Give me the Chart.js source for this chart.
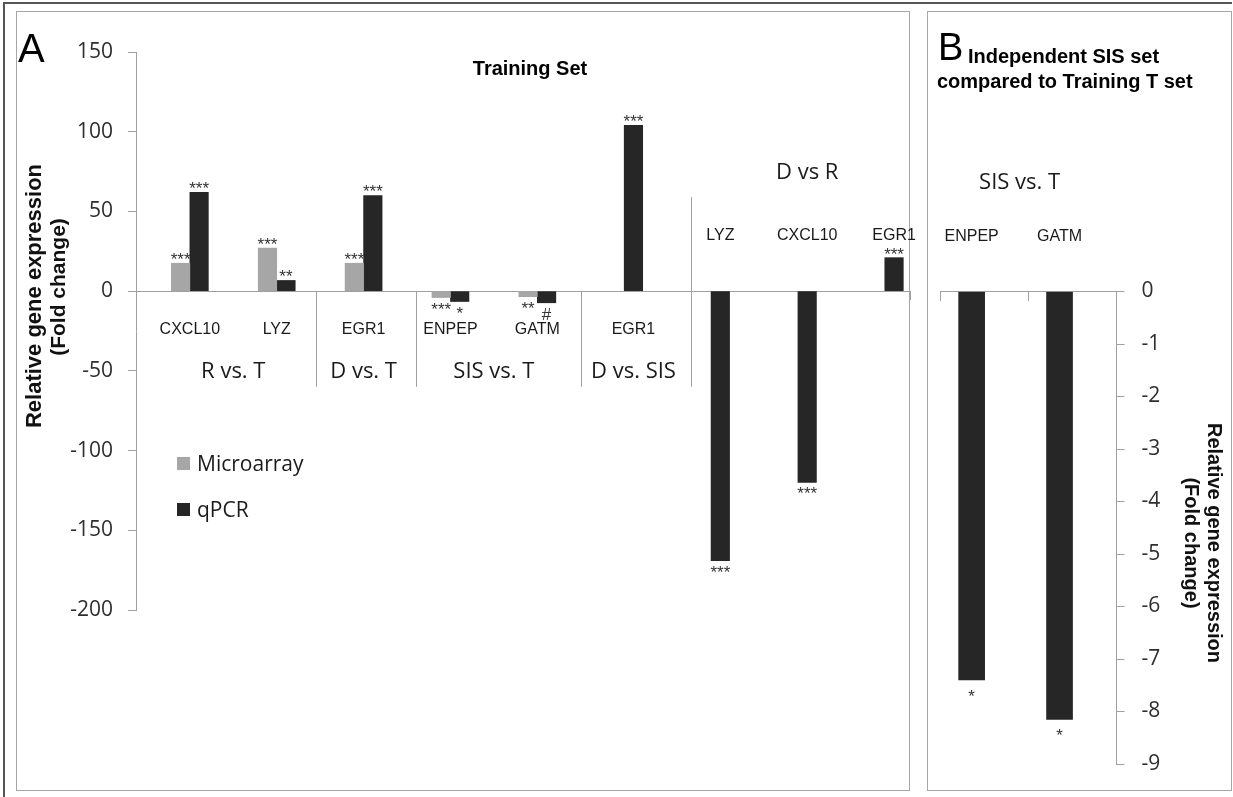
<!DOCTYPE html>
<html>
<head>
<meta charset="utf-8">
<title>Relative gene expression</title>
<script src="https://cdn.jsdelivr.net/npm/chart.js@4.4.1/dist/chart.umd.min.js"></script>
<style>
  html, body { margin: 0; padding: 0; background: #fff; }
  #wrap { position: relative; width: 1233px; height: 797px; overflow: hidden; background: #fff; }
  #wrap canvas { position: absolute; left: 0; top: 0; }
  .frame { position: absolute; box-sizing: border-box; }
</style>
</head>
<body>
<div id="wrap">
  <div class="frame" style="left:3px;top:2px;width:1229px;height:800px;border-top:2px solid #555;border-left:2px solid #555;"></div>
  <div class="frame" style="left:16px;top:11px;width:894px;height:780px;border:1.5px solid #a6a6a6;"></div>
  <div class="frame" style="left:927px;top:11px;width:305px;height:780px;border:1.5px solid #a6a6a6;"></div>
  <canvas id="chartA" width="1233" height="797"></canvas>
  <canvas id="chartB" width="1233" height="797"></canvas>
</div>
<script>
// ---- Panel A: training set ----
const genes = ['CXCL10', 'LYZ', 'EGR1', 'ENPEP', 'GATM', 'EGR1', 'LYZ', 'CXCL10', 'EGR1'];
const microarray = [17.5, 27, 17.5, -4, -3.5, null, null, null, null];
const qpcr = [62, 6.7, 60, -6.5, -7.3, 104, -169, -120, 21];
const microarraySig = ['***', '***', '***', '***', '**', '', '', '', ''];
const qpcrSig = ['***', '**', '***', '*', '#', '***', '***', '***', '***'];
const comparisons = ['R vs. T', 'D vs. T', 'SIS vs. T', 'D vs. SIS', 'D vs R'];
const comparisonFirst = [0, 2, 3, 5, 6];
const comparisonLast = [1, 2, 4, 5, 8];
const yTicksA = [-200, -150, -100, -50, 0, 50, 100, 150];

// ---- Panel B: independent SIS set ----
const genesB = ['ENPEP', 'GATM'];
const qpcrB = [-7.4, -8.15];
const microarrayB = [null, null];
const qpcrSigB = ['*', '*'];
const yTicksB = [-9, -8, -7, -6, -5, -4, -3, -2, -1, 0];

const GREY = '#a6a6a6';
const DARK = '#262626';
const AXIS = '#a0a0a0';
const TICK_FONT = { family: 'Open Sans', size: 21 };
const TICK_COLOR = '#2e2e2e';

function drawText(ctx, str, x, y, font, color, align) {
  ctx.save();
  ctx.font = font;
  ctx.fillStyle = color;
  ctx.textAlign = align || 'center';
  ctx.textBaseline = 'alphabetic';
  ctx.fillText(str, x, y);
  ctx.restore();
}

function drawRotated(ctx, str, x, y, angle, font, color) {
  ctx.save();
  ctx.translate(x, y);
  ctx.rotate(angle);
  ctx.font = font;
  ctx.fillStyle = color;
  ctx.textAlign = 'center';
  ctx.textBaseline = 'alphabetic';
  ctx.fillText(str, 0, 0);
  ctx.restore();
}

function vline(ctx, x, y1, y2, color) {
  ctx.save();
  ctx.strokeStyle = color;
  ctx.lineWidth = 1;
  ctx.beginPath();
  ctx.moveTo(Math.round(x) + 0.5, y1);
  ctx.lineTo(Math.round(x) + 0.5, y2);
  ctx.stroke();
  ctx.restore();
}

// significance marks: above positive bars, below negative ones
function drawSig(ctx, el, value, mark, below) {
  if (!mark || value === null || !el) return;
  const y = value >= 0 ? el.y + 2 : el.y + below;
  drawText(ctx, mark, el.x, y, '17px "Liberation Sans"', '#333');
}

// group dividers along the zero line (x positions in category units)
const dividersA = [
  { at: 1.45, top: 0 },
  { at: 2.6, top: 0 },
  { at: 4.5, top: 0 },
  { at: 5.77, top: 59 }
];

const panelAPlugin = {
  id: 'panelA',
  afterDatasetsDraw(chart) {
    const { ctx, chartArea, scales: { x, y } } = chart;
    const zero = y.getPixelForValue(0);
    const mMeta = chart.getDatasetMeta(0);
    const qMeta = chart.getDatasetMeta(1);

    // panel letter and title
    drawText(ctx, 'A', 18, 62, '40px "Liberation Sans"', '#000', 'left');
    drawText(ctx, 'Training Set', 530, 75, 'bold 20px "Liberation Sans"', '#000');

    // y-axis title
    drawRotated(ctx, 'Relative gene expression', 41, 296, -Math.PI / 2, 'bold 22px "Liberation Sans"', '#111');
    drawRotated(ctx, '(Fold change)', 65, 287, -Math.PI / 2, 'bold 21px "Liberation Sans"', '#111');

    // dividers and axis end tick
    const lowEnd = y.getPixelForValue(-60);
    dividersA.forEach(d => {
      vline(ctx, x.getPixelForValue(d.at), y.getPixelForValue(d.top), lowEnd, AXIS);
    });
    vline(ctx, chartArea.right, zero, zero + 9, AXIS);

    // gene labels
    const geneX = genes.map((g, i) => {
      const q = qMeta.data[i];
      return microarray[i] === null ? q.x : (mMeta.data[i].x + q.x) / 2;
    });
    const upperGroup = comparisons.length - 1;
    comparisons.forEach((name, gi) => {
      const upper = gi === upperGroup;
      for (let i = comparisonFirst[gi]; i <= comparisonLast[gi]; i++) {
        drawText(ctx, genes[i], geneX[i], upper ? zero - 51 : zero + 43, '16px "Liberation Sans"', '#1a1a1a');
      }
      const cx = (geneX[comparisonFirst[gi]] + geneX[comparisonLast[gi]]) / 2;
      drawText(ctx, name, cx, upper ? zero - 112 : zero + 87, '22px "Open Sans"', '#1a1a1a');
    });

    // significance marks
    genes.forEach((g, i) => {
      drawSig(ctx, mMeta.data[i], microarray[i], microarraySig[i], 17);
      drawSig(ctx, qMeta.data[i], qpcr[i], qpcrSig[i], 17);
    });

    // legend
    chart.data.datasets.forEach((ds, i) => {
      const top = 457 + i * 46;
      ctx.save();
      ctx.fillStyle = ds.backgroundColor;
      ctx.fillRect(177, top, 13, 13);
      ctx.restore();
      drawText(ctx, ds.label, 197, top + 14, '21px "Open Sans"', '#1a1a1a', 'left');
    });
  }
};

new Chart(document.getElementById('chartA'), {
  type: 'bar',
  data: {
    datasets: [
      { label: 'Microarray', data: microarray.map((v, i) => ({ x: i, y: v })), backgroundColor: GREY, barThickness: 18.5 },
      { label: 'qPCR', data: qpcr.map((v, i) => ({ x: i, y: v })), backgroundColor: DARK, barThickness: 18.5 }
    ]
  },
  options: {
    responsive: false,
    animation: false,
    devicePixelRatio: 1,
    layout: { padding: { left: 0, top: 52, right: 323, bottom: 187 } },
    plugins: { legend: { display: false }, tooltip: { enabled: false } },
    scales: {
      x: {
        type: 'linear',
        position: { y: 0 },
        offset: false,
        min: -0.62,
        max: 8.29,
        grid: { display: false, offset: false },
        ticks: { display: false },
        border: { color: AXIS, width: 1 }
      },
      y: {
        min: yTicksA[0],
        max: yTicksA[yTicksA.length - 1],
        afterBuildTicks: s => { s.ticks = yTicksA.map(v => ({ value: v })); },
        ticks: { font: TICK_FONT, color: TICK_COLOR, padding: 15 },
        grid: { drawOnChartArea: false, tickLength: 8, color: AXIS },
        border: { color: AXIS },
        afterFit: s => { s.width = 136; }
      }
    }
  },
  plugins: [panelAPlugin]
});

const panelBPlugin = {
  id: 'panelB',
  afterDatasetsDraw(chart) {
    const { ctx, scales: { y } } = chart;
    const zero = y.getPixelForValue(0);
    const qMeta = chart.getDatasetMeta(0);

    drawText(ctx, 'B', 938, 60, '38px "Liberation Sans"', '#000', 'left');
    drawText(ctx, 'Independent SIS set', 968, 63, 'bold 20px "Liberation Sans"', '#000', 'left');
    drawText(ctx, 'compared to Training T set', 937, 88, 'bold 20px "Liberation Sans"', '#000', 'left');

    const bx = qMeta.data.map(el => el.x);
    drawText(ctx, 'SIS vs. T', (bx[0] + bx[bx.length - 1]) / 2 + 4, 189, '22px "Open Sans"', '#1a1a1a');
    genesB.forEach((g, i) => {
      drawText(ctx, g, bx[i], zero - 51, '16px "Liberation Sans"', '#1a1a1a');
      drawSig(ctx, qMeta.data[i], qpcrB[i], qpcrSigB[i], 22);
    });

    drawRotated(ctx, 'Relative gene expression', 1208, 543, Math.PI / 2, 'bold 20px "Liberation Sans"', '#111');
    drawRotated(ctx, '(Fold change)', 1185, 543, Math.PI / 2, 'bold 20px "Liberation Sans"', '#111');
  }
};

new Chart(document.getElementById('chartB'), {
  type: 'bar',
  data: {
    labels: genesB,
    datasets: [
      { label: 'qPCR', data: qpcrB, backgroundColor: DARK, barThickness: 26 },
      { label: 'Microarray', data: microarrayB, backgroundColor: GREY, barThickness: 26 }
    ]
  },
  options: {
    responsive: false,
    animation: false,
    devicePixelRatio: 1,
    layout: { padding: { left: 940.7, top: 291.5, right: 0, bottom: 33 } },
    plugins: { legend: { display: false }, tooltip: { enabled: false } },
    scales: {
      x: {
        type: 'category',
        position: { y: 0 },
        offset: true,
        ticks: { display: false },
        grid: { display: true, offset: true, drawOnChartArea: false, drawTicks: true, tickLength: 9, color: AXIS },
        border: { color: AXIS }
      },
      y: {
        position: 'right',
        min: yTicksB[0],
        max: yTicksB[yTicksB.length - 1],
        afterBuildTicks: s => { s.ticks = yTicksB.map(v => ({ value: v })); },
        ticks: { font: TICK_FONT, color: TICK_COLOR, padding: 17 },
        grid: { drawOnChartArea: false, tickLength: 8, color: AXIS },
        border: { color: AXIS },
        afterFit: s => { s.width = 116.5; }
      }
    }
  },
  plugins: [panelBPlugin]
});
</script>
</body>
</html>
